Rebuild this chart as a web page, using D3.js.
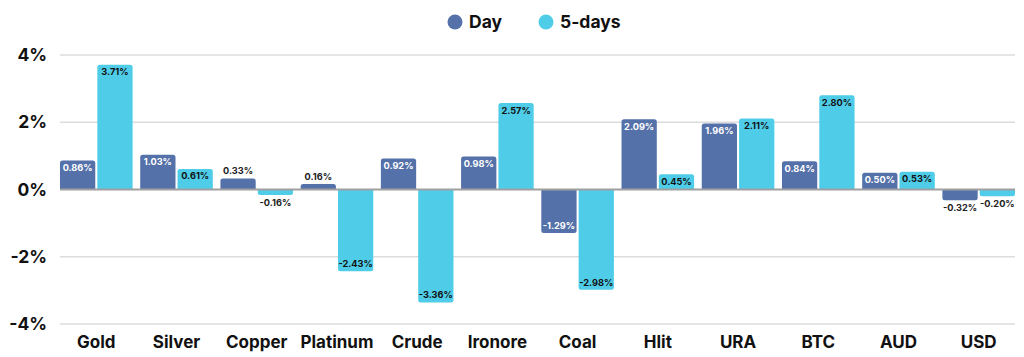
<!DOCTYPE html>
<html><head><meta charset="utf-8">
<script src="https://cdn.jsdelivr.net/npm/d3@7"></script>
<style>
body{margin:0;background:#fff;}
text{font-family:Inter,"Open Sans",sans-serif;font-weight:700;}
</style></head>
<body><svg id="c" width="1024" height="357"></svg>
<script>
const categories=["Gold","Silver","Copper","Platinum","Crude","Ironore","Coal","Hlit","URA","BTC","AUD","USD"];
const dayValues=[0.86,1.03,0.33,0.16,0.92,0.98,-1.29,2.09,1.96,0.84,0.50,-0.32];
const fiveDayValues=[3.71,0.61,-0.16,-2.43,-3.36,2.57,-2.98,0.45,2.11,2.80,0.53,-0.20];
const seriesNames=["Day","5-days"];
const seriesColors=["#5571a9","#4fcde8"];
const yTicks=[-4,-2,0,2,4];

(function(){
const svg=d3.select("#c");
const mLeft=60,mRight=1015,mTop=55,mBottom=324;
const x=d3.scaleBand().domain(categories).range([mLeft,mRight]).paddingInner(0.095).paddingOuter(0);
const x1=d3.scaleBand().domain([0,1]).range([0,x.bandwidth()]).paddingInner(0.055);
const y=d3.scaleLinear().domain([-4,4]).range([mBottom,mTop]);

// grid
svg.append("g").selectAll("line").data(yTicks.filter(d=>d!==0)).join("line")
 .attr("x1",mLeft).attr("x2",mRight).attr("y1",d=>y(d)).attr("y2",d=>y(d))
 .attr("stroke","#dcdcdc").attr("stroke-width",1.3);
// y labels
const yAxis=d3.axisLeft(y).tickValues(yTicks).tickFormat(d=>d+"%").tickSize(0).tickPadding(0);
const ya=svg.append("g").attr("transform","translate(47,0)").call(yAxis);
ya.select(".domain").remove();
ya.selectAll("text").attr("font-size",17.5).attr("fill","#111").attr("font-family","Inter,sans-serif").attr("font-weight",800);

// bars
const data=[];
categories.forEach((c,i)=>{[dayValues[i],fiveDayValues[i]].forEach((v,s)=>data.push({c,s,v}));});
function barPath(x0,w,v){
  const y0=y(0),y1=y(v),r=2.5;
  if(v>=0){
    return `M${x0},${y0}V${y1+r}Q${x0},${y1} ${x0+r},${y1}H${x0+w-r}Q${x0+w},${y1} ${x0+w},${y1+r}V${y0}Z`;
  } else {
    return `M${x0},${y0}V${y1-r}Q${x0},${y1} ${x0+r},${y1}H${x0+w-r}Q${x0+w},${y1} ${x0+w},${y1-r}V${y0}Z`;
  }
}
svg.append("g").selectAll("path").data(data).join("path")
 .attr("d",d=>barPath(x(d.c)+x1(d.s),x1.bandwidth(),d.v))
 .attr("fill",d=>seriesColors[d.s]);

// zero line
svg.append("line").attr("x1",mLeft).attr("x2",mRight).attr("y1",y(0)).attr("y2",y(0))
 .attr("stroke","#a0a0a0").attr("stroke-width",2);

// labels
svg.append("g").selectAll("text").data(data).join("text")
 .attr("x",d=>x(d.c)+x1(d.s)+x1.bandwidth()/2)
 .attr("y",d=>{
   const h=Math.abs(y(d.v)-y(0));
   const inside=h>=14;
   if(d.v>=0) return inside? y(d.v)+10.5 : y(d.v)-4;
   return inside? y(d.v)-4 : y(d.v)+11;
 })
 .attr("text-anchor","middle").attr("font-size",9.2).attr("font-weight",800)
 .attr("fill",d=>{
   const h=Math.abs(y(d.v)-y(0));
   if(h<14) return "#222";
   return d.s===0?"#fff":"#111";
 })
 .text(d=>d.v.toFixed(2)+"%");

// x labels
svg.append("g").selectAll("text").data(categories).join("text")
 .attr("x",c=>x(c)+x.bandwidth()/2).attr("y",348)
 .attr("text-anchor","middle").attr("font-size",17).attr("font-weight",800).attr("fill","#111").text(c=>c);

// legend
const lg=svg.append("g");
const lx=[455,546];
seriesNames.forEach((n,i)=>{
  lg.append("circle").attr("cx",lx[i]).attr("cy",22).attr("r",7.5).attr("fill",seriesColors[i]);
  lg.append("text").attr("x",lx[i]+14).attr("y",28).attr("font-size",17.5).attr("font-weight",800).attr("fill","#111").text(n);
});
})();
</script></body></html>
